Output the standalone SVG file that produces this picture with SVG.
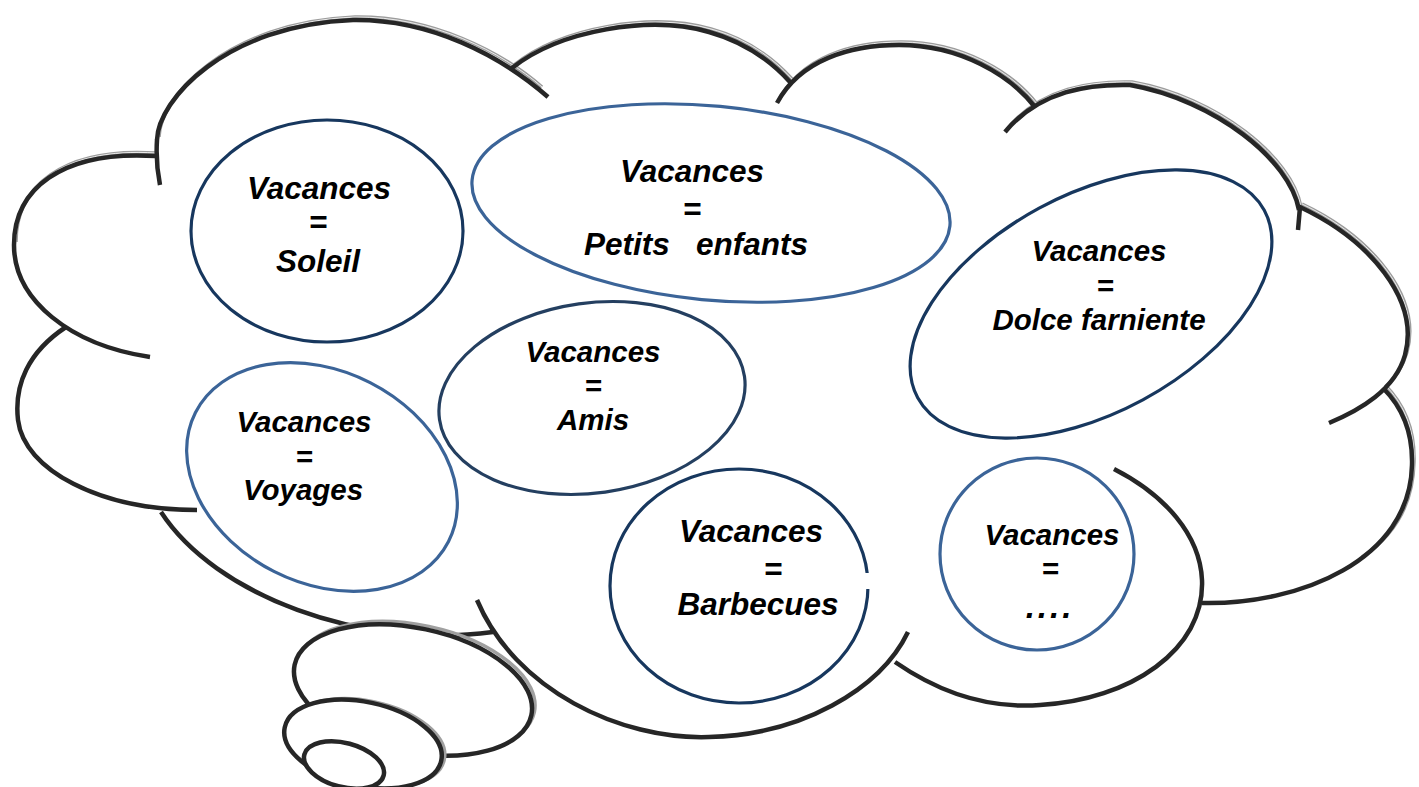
<svg xmlns="http://www.w3.org/2000/svg" xmlns:xlink="http://www.w3.org/1999/xlink" width="1419" height="787" viewBox="0 0 1419 787">
<style>
.ln{fill:none;stroke:#262626;stroke-width:4.5;stroke-linecap:butt}
.sh{fill:none;stroke:#9c9c9c;stroke-width:3.5}
.shw{fill:none;stroke:#ffffff;stroke-width:0.8}
.bub{fill:#ffffff;stroke:#262626;stroke-width:4.5}
.bsh{fill:none;stroke:#a0a0a0;stroke-width:3.5}
.navy{fill:#ffffff;stroke:#17375e;stroke-width:3.2}
.blue{fill:#ffffff;stroke:#3b6498;stroke-width:3.2}
.t{font-family:"Liberation Sans",Arial,Helvetica,sans-serif;font-weight:bold;font-style:italic;fill:#000000;text-anchor:middle}
</style>
<defs>
<path id="L1" d="M160,185 C157,170 156,155 157,140 C158,100 225,25 353,20 C430,19 500,55 548,97"/>
<path id="S1" d="M157,140 C158,100 225,25 353,20 C430,19 500,55 540,90"/>
<path id="L2" d="M156,156 C60,150 14,190 14,245 C14,300 70,345 150,357"/>
<path id="S2" d="M154,156 C60,150 14,190 14,245"/>
<path id="L3" d="M66,327 C28,352 14,385 18,420 C24,470 100,510 197,510"/>
<path id="L4" d="M161,512 C215,595 360,650 493,632"/>
<path id="L5" d="M477,600 C515,690 620,740 709,737 C800,735 880,690 908,632"/>
<path id="L6" d="M895,662 C950,700 1000,708 1040,705 C1130,700 1205,650 1202,580 C1200,535 1165,495 1114,469"/>
<path id="L7" d="M1202,603 C1300,605 1410,560 1412,465 C1413,430 1400,405 1383,388"/>
<path id="S7" d="M1383,388 C1400,405 1413,430 1412,465 C1411,510 1390,540 1360,560"/>
<path id="L8" d="M1298,230 L1300,207 C1370,240 1420,300 1405,355 C1395,390 1360,410 1329,423"/>
<path id="S8" d="M1300,207 C1370,240 1420,300 1405,355 C1400,372 1393,382 1383,390"/>
<path id="L9" d="M1005,132 C1040,90 1090,84 1130,85 C1215,100 1290,160 1299,210"/>
<path id="L10" d="M777,103 C800,60 850,45 899,45 C960,45 1010,75 1035,107"/>
<path id="L11" d="M512,68 C560,30 650,15 709,32 C745,42 770,60 790,82"/>
</defs>

<g id="cloud">
  <g id="cloud-shadow" transform="translate(2,-3)">
    <use xlink:href="#S1" class="sh"/><use xlink:href="#S1" class="shw"/>
    <use xlink:href="#S2" class="sh"/><use xlink:href="#S2" class="shw"/>
    <use xlink:href="#S7" class="sh"/><use xlink:href="#S7" class="shw"/>
    <use xlink:href="#S8" class="sh"/><use xlink:href="#S8" class="shw"/>
    <use xlink:href="#L9" class="sh"/><use xlink:href="#L9" class="shw"/>
    <use xlink:href="#L10" class="sh"/><use xlink:href="#L10" class="shw"/>
    <use xlink:href="#L11" class="sh"/><use xlink:href="#L11" class="shw"/>
  </g>
  <g id="cloud-outline">
    <use xlink:href="#L1" class="ln"/>
    <use xlink:href="#L2" class="ln"/>
    <use xlink:href="#L3" class="ln"/>
    <use xlink:href="#L4" class="ln"/>
    <use xlink:href="#L5" class="ln"/>
    <use xlink:href="#L6" class="ln"/>
    <use xlink:href="#L7" class="ln"/>
    <use xlink:href="#L8" class="ln"/>
    <use xlink:href="#L9" class="ln"/>
    <use xlink:href="#L10" class="ln"/>
    <use xlink:href="#L11" class="ln"/>
  </g>
</g>

<g id="bubble1">
  <ellipse cx="413" cy="690" rx="121" ry="62" transform="translate(3,-3) rotate(12 413 690)" class="bsh"/>
  <ellipse cx="413" cy="690" rx="121" ry="62" transform="rotate(12 413 690)" class="bub"/>
</g>
<g id="bubble2">
  <ellipse cx="363" cy="744" rx="80" ry="42" transform="translate(3,-1) rotate(12 363 744)" class="bsh"/>
  <ellipse cx="363" cy="744" rx="80" ry="42" transform="rotate(12 363 744)" class="bub"/>
</g>
<g id="bubble3">
  <ellipse cx="344" cy="765" rx="41" ry="22" transform="rotate(15 344 765)" class="bub"/>
</g>

<g id="node-soleil">
  <ellipse cx="327" cy="231" rx="136" ry="111" class="navy"/>
  <text class="t" font-size="31.5" x="319" y="199">Vacances</text>
  <text class="t" font-size="31.5" x="318" y="233">=</text>
  <text class="t" font-size="31.5" x="318" y="272">Soleil</text>
</g>

<g id="node-petits-enfants">
  <ellipse cx="711" cy="203" rx="240" ry="97" transform="rotate(5.5 711 203)" class="blue"/>
  <text class="t" font-size="31.5" x="692" y="182">Vacances</text>
  <text class="t" font-size="31.5" x="692" y="220">=</text>
  <text class="t" font-size="31.5" x="696" y="255" xml:space="preserve" style="white-space:pre">Petits   enfants</text>
</g>

<g id="node-dolce-farniente">
  <ellipse cx="1091" cy="304" rx="197" ry="109" transform="rotate(-28.4 1091 304)" class="navy"/>
  <text class="t" font-size="29.5" x="1099" y="261">Vacances</text>
  <text class="t" font-size="29.5" x="1105" y="296">=</text>
  <text class="t" font-size="29.5" x="1099" y="330">Dolce farniente</text>
</g>

<g id="node-amis">
  <ellipse cx="592" cy="398" rx="154" ry="95" transform="rotate(-8 592 398)" class="navy" style="stroke:#243f60"/>
  <text class="t" font-size="29.5" x="593" y="362">Vacances</text>
  <text class="t" font-size="29.5" x="593" y="396">=</text>
  <text class="t" font-size="29.5" x="593" y="430">Amis</text>
</g>

<g id="node-voyages">
  <ellipse cx="322" cy="477" rx="142" ry="106" transform="rotate(27 322 477)" class="blue"/>
  <text class="t" font-size="29.5" x="304" y="432">Vacances</text>
  <text class="t" font-size="29.5" x="304" y="467">=</text>
  <text class="t" font-size="29.5" x="303" y="500">Voyages</text>
</g>

<g id="node-barbecues">
  <ellipse cx="739" cy="586" rx="129" ry="117" class="navy"/>
  <rect x="865" y="573" width="6" height="16" fill="#ffffff"/>
  <text class="t" font-size="31.5" x="751" y="542">Vacances</text>
  <text class="t" font-size="31.5" x="773" y="580">=</text>
  <text class="t" font-size="31.5" x="758" y="615">Barbecues</text>
</g>

<g id="node-etc">
  <ellipse cx="1037" cy="554" rx="97" ry="96" class="blue"/>
  <text class="t" font-size="29.5" x="1052" y="545">Vacances</text>
  <text class="t" font-size="29.5" x="1050" y="579">=</text>
  <text class="t" font-size="33" x="1050" y="618" letter-spacing="3">....</text>
</g>
</svg>
